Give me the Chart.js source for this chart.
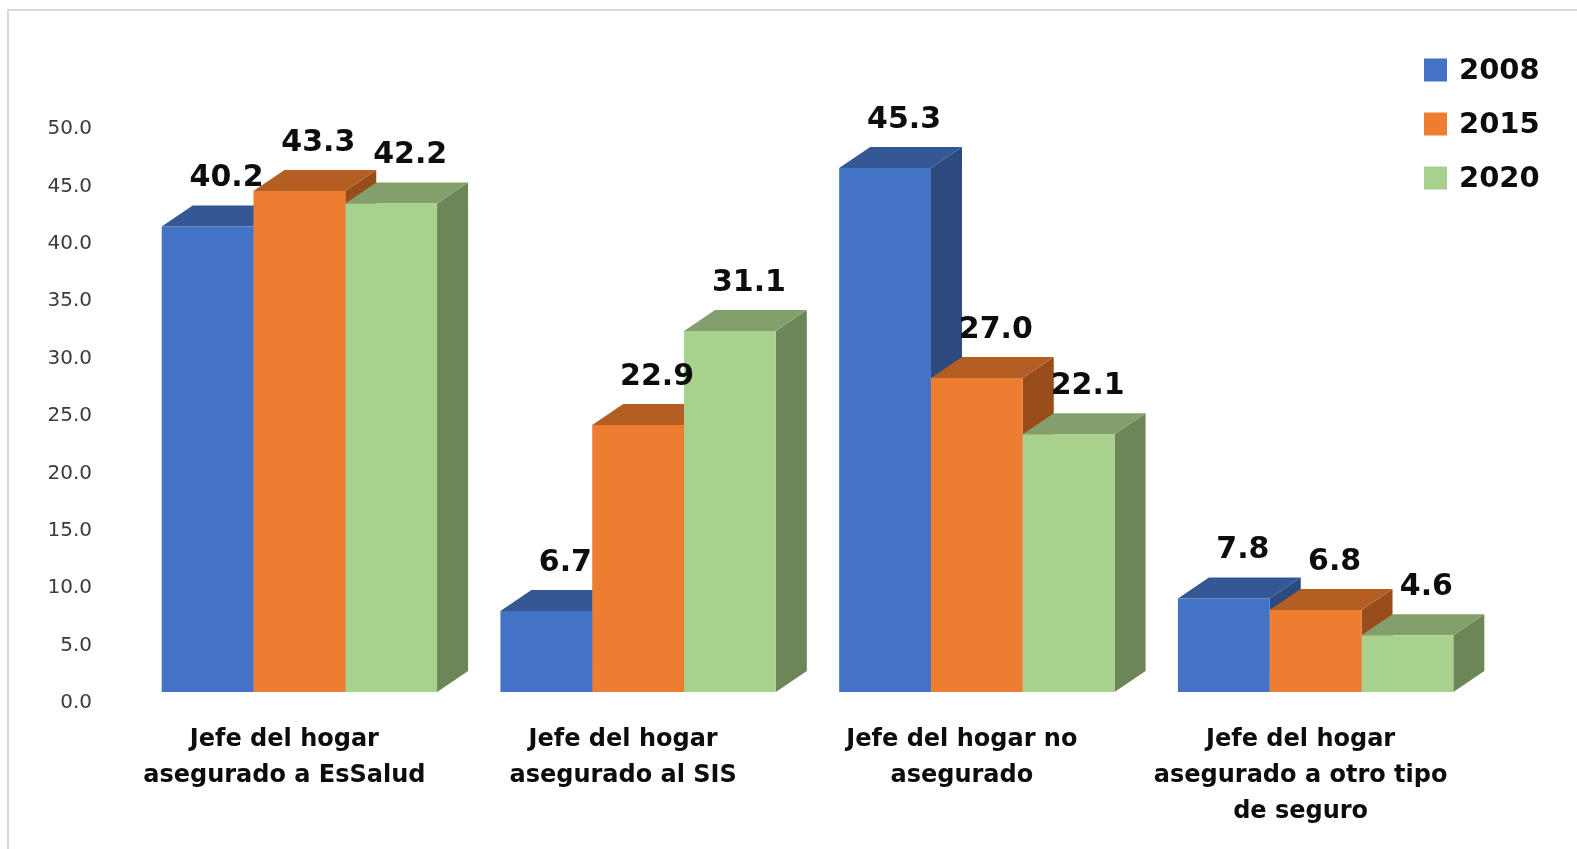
<!DOCTYPE html>
<html lang="es">
<head>
    <meta charset="UTF-8">
    <title>Jefe del hogar según tipo de seguro</title>
    <script src="https://cdn.jsdelivr.net/npm/chart.js"></script>
    <style>
        body {
            margin: 0;
            background-color: #ffffff;
            overflow: hidden;
        }

        .frame {
            position: absolute;
            left: 7px;
            top: 9px;
            width: 1600px;
            height: 900px;
            border: 2px solid #d9d9d9;
        }

        .wrap {
            position: absolute;
            left: 0;
            top: 0;
            width: 1577px;
            height: 849px;
        }
    </style>
</head>
<body>
    <div class="frame"></div>
    <div class="wrap">
        <canvas id="seguroChart"></canvas>
    </div>

    <script>
        // datos
        const categories = [
            ["Jefe del hogar", "asegurado a EsSalud"],
            ["Jefe del hogar", "asegurado al SIS"],
            ["Jefe del hogar no", "asegurado"],
            ["Jefe del hogar", "asegurado a otro tipo", "de seguro"]
        ];
        const years = ["2008", "2015", "2020"];
        const values2008 = [40.2, 6.7, 45.3, 7.8];
        const values2015 = [43.3, 22.9, 27.0, 6.8];
        const values2020 = [42.2, 31.1, 22.1, 4.6];

        const frontColors = ["#4472c4", "#ed7d31", "#a9d18e"];
        const topColors = ["#335895", "#b45e23", "#83a06c"];
        const sideColors = ["#2c4a7e", "#994d1b", "#6d8658"];

        const DEPTH_X = 31;
        const DEPTH_Y = 21;
        const FONT = "'DejaVu Sans', Verdana, sans-serif";

        // caras superior y lateral (las frontales las dibuja Chart.js encima)
        const bars3d = {
            id: 'bars3d',
            beforeDatasetsDraw(chart) {
                const ctx = chart.ctx;
                const metas = chart.data.datasets.map((d, i) => chart.getDatasetMeta(i));
                ctx.save();
                // laterales primero
                metas.forEach((meta, i) => {
                    meta.data.forEach(bar => {
                        const r = bar.x + bar.width / 2;
                        ctx.fillStyle = sideColors[i];
                        ctx.beginPath();
                        ctx.moveTo(r, bar.y);
                        ctx.lineTo(r + DEPTH_X, bar.y - DEPTH_Y);
                        ctx.lineTo(r + DEPTH_X, bar.base - DEPTH_Y);
                        ctx.lineTo(r, bar.base);
                        ctx.closePath();
                        ctx.fill();
                    });
                });
                // luego las tapas
                metas.forEach((meta, i) => {
                    meta.data.forEach(bar => {
                        const l = bar.x - bar.width / 2;
                        const r = bar.x + bar.width / 2;
                        ctx.fillStyle = topColors[i];
                        ctx.beginPath();
                        ctx.moveTo(l, bar.y);
                        ctx.lineTo(l + DEPTH_X, bar.y - DEPTH_Y);
                        ctx.lineTo(r + DEPTH_X, bar.y - DEPTH_Y);
                        ctx.lineTo(r, bar.y);
                        ctx.closePath();
                        ctx.fill();
                    });
                });
                ctx.restore();
            },
            afterDatasetsDraw(chart) {
                const ctx = chart.ctx;
                ctx.save();
                ctx.font = "bold 30px " + FONT;
                ctx.fillStyle = "#0d0d0d";
                ctx.textAlign = "center";
                ctx.textBaseline = "middle";
                chart.data.datasets.forEach((ds, i) => {
                    chart.getDatasetMeta(i).data.forEach((bar, j) => {
                        ctx.fillText(ds.data[j].toFixed(1), bar.x + 19, bar.y - 48);
                    });
                });
                ctx.restore();
            }
        };

        // leyenda arriba a la derecha, dentro del área del gráfico
        const legendRight = {
            id: 'legendRight',
            afterDraw(chart) {
                const ctx = chart.ctx;
                ctx.save();
                ctx.font = "bold 29px " + FONT;
                ctx.textAlign = "left";
                ctx.textBaseline = "middle";
                chart.data.datasets.forEach((ds, i) => {
                    const cy = 70 + i * 54;
                    ctx.fillStyle = ds.backgroundColor;
                    ctx.fillRect(1424, cy - 11.5, 23, 23);
                    ctx.fillStyle = "#0d0d0d";
                    ctx.fillText(ds.label, 1459, cy + 1);
                });
                ctx.restore();
            }
        };

        const seriesValues = [values2008, values2015, values2020];

        new Chart(document.getElementById('seguroChart'), {
            type: 'bar',
            data: {
                labels: categories,
                datasets: years.map((y, i) => ({
                    label: y,
                    data: seriesValues[i],
                    backgroundColor: frontColors[i],
                    borderWidth: 0,
                    base: -0.35,
                    clip: false,
                    categoryPercentage: 0.813,
                    barPercentage: 1.0
                }))
            },
            options: {
                responsive: true,
                maintainAspectRatio: false,
                animation: false,
                layout: {
                    padding: { top: 114, right: 92, bottom: 0, left: 0 }
                },
                plugins: {
                    legend: { display: false },
                    tooltip: { enabled: false }
                },
                scales: {
                    x: {
                        grid: { display: false, drawTicks: false },
                        border: { display: false },
                        ticks: {
                            color: "#0d0d0d",
                            font: { family: FONT, size: 24, weight: 'bold', lineHeight: 1.5 },
                            padding: 34,
                            labelOffset: -15,
                            maxRotation: 0,
                            autoSkip: false
                        },
                        afterFit(scale) { scale.height = 161; }
                    },
                    y: {
                        min: 0,
                        max: 50,
                        grid: { display: false, drawTicks: false },
                        border: { display: false },
                        ticks: {
                            stepSize: 5,
                            color: "#3b3b3b",
                            font: { family: FONT, size: 20 },
                            padding: 38,
                            labelOffset: 15,
                            callback: v => v.toFixed(1)
                        },
                        afterFit(scale) { scale.width = 130; }
                    }
                }
            },
            plugins: [bars3d, legendRight]
        });
    </script>
</body>
</html>
